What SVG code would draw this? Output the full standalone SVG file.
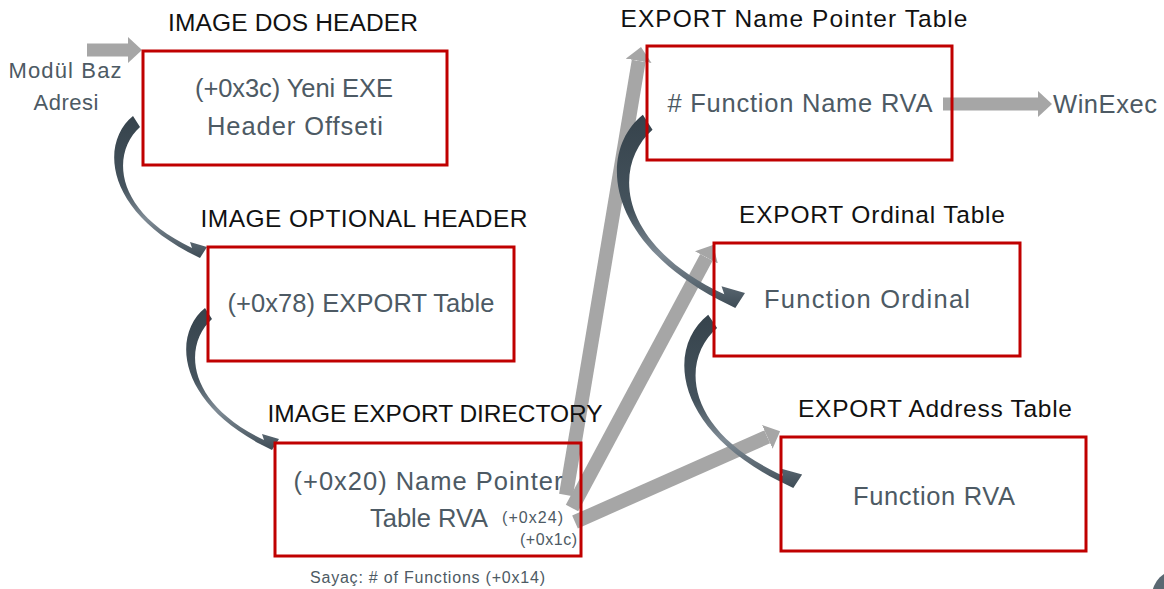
<svg xmlns="http://www.w3.org/2000/svg" width="1164" height="589" viewBox="0 0 1164 589">
<style>
.box{fill:none;stroke:#c00000;stroke-width:3}
.title{font-family:"Liberation Sans",Arial,sans-serif;font-size:24.5px;fill:#111;text-anchor:middle}
.txt{font-family:"Liberation Sans",Arial,sans-serif;font-size:25.5px;fill:#4d5a64;text-anchor:middle}
.sm{font-family:"Liberation Sans",Arial,sans-serif;font-size:16px;fill:#4d5a64}
.garrow{stroke:#a6a6a6;stroke-width:14;fill:none;marker-end:url(#ghead)}
</style>
<defs>
<marker id="ghead" markerUnits="userSpaceOnUse" markerWidth="14" markerHeight="26" viewBox="0 0 14 26" refX="0" refY="13" orient="auto">
<path d="M0,0 L14,13 L0,26 Z" fill="#a6a6a6"/>
</marker>
<linearGradient id="dg" x1="0" y1="0" x2="0" y2="1">
<stop offset="0" stop-color="#36434c"/>
<stop offset="0.5" stop-color="#45535d"/>
<stop offset="0.72" stop-color="#7f8b95"/>
<stop offset="1" stop-color="#3e4c56"/>
</linearGradient>
<path id="curve" d="M-3,-6 C-35,20 -32,85 52,130 L64,136 L71,125 L54,120 L56,126 C-24,88 -24,30 4,5 Z" fill="url(#dg)"/>
</defs>

<g id="connectors">
<line class="garrow" x1="87" y1="50" x2="128" y2="50" style="stroke-width:13"/>
<line class="garrow" x1="943" y1="104" x2="1038" y2="104" style="stroke-width:13"/>
<line class="garrow" x1="566" y1="495" x2="638.7" y2="60.8"/>
<line class="garrow" x1="572" y1="508" x2="706.4" y2="257.4"/>
<line class="garrow" x1="575" y1="522" x2="767.3" y2="436.8"/>
<use href="#curve" transform="translate(136,122)"/>
<use href="#curve" transform="translate(208,314)"/>
<use href="#curve" transform="translate(647,123) scale(1.38,1.36)"/>
<use href="#curve" transform="translate(712,322) scale(1.27,1.22)"/>
</g>

<g id="node-dos">
<rect class="box" x="143" y="51" width="304" height="114"/>
<text class="title" x="293" y="31" textLength="250">IMAGE DOS HEADER</text>
<text class="txt" x="294" y="97" textLength="198">(+0x3c) Yeni EXE</text>
<text class="txt" x="295" y="135" textLength="176">Header Offseti</text>
</g>

<g id="node-optional">
<rect class="box" x="208" y="247" width="306" height="114"/>
<text class="title" x="364" y="227" textLength="327">IMAGE OPTIONAL HEADER</text>
<text class="txt" x="361" y="312" textLength="267">(+0x78) EXPORT Table</text>
</g>

<g id="node-export-dir">
<rect class="box" x="275" y="443" width="306" height="113"/>
<text class="title" x="435" y="422" textLength="335">IMAGE EXPORT DIRECTORY</text>
<text class="txt" x="428" y="490" textLength="269">(+0x20) Name Pointer</text>
<text class="txt" x="429" y="527" textLength="118">Table RVA</text>
<text class="sm" x="502" y="523" textLength="61">(+0x24)</text>
<text class="sm" x="520" y="545" textLength="57">(+0x1c)</text>
<text class="sm" x="310" y="583" textLength="235">Sayaç: # of Functions (+0x14)</text>
</g>

<g id="node-name-pointer">
<rect class="box" x="647" y="46" width="305" height="114"/>
<text class="title" x="794" y="27" textLength="347">EXPORT Name Pointer Table</text>
<text class="txt" x="800" y="112" textLength="265"># Function Name RVA</text>
</g>

<g id="node-ordinal">
<rect class="box" x="714" y="243" width="306" height="113"/>
<text class="title" x="872" y="223" textLength="266">EXPORT Ordinal Table</text>
<text class="txt" x="867" y="308" textLength="206">Function Ordinal</text>
</g>

<g id="node-address">
<rect class="box" x="781" y="437" width="305" height="114"/>
<text class="title" x="935" y="417" textLength="274">EXPORT Address Table</text>
<text class="txt" x="934" y="505" textLength="162">Function RVA</text>
</g>

<g id="labels">
<text class="txt" x="65" y="78" style="font-size:22px" textLength="113">Modül Baz</text>
<text class="txt" x="66" y="110" style="font-size:22px" textLength="65">Adresi</text>
<text class="txt" x="1053" y="113" style="text-anchor:start" textLength="104">WinExec</text>
</g>

<circle cx="1178" cy="596" r="26" fill="#5a6872"/>
</svg>
